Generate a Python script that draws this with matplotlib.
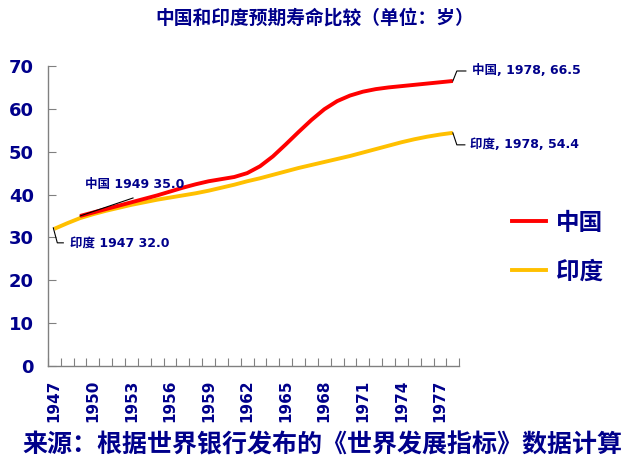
import numpy as np
import matplotlib
matplotlib.use('Agg')
import matplotlib.pyplot as plt
from matplotlib.lines import Line2D
from matplotlib.transforms import IdentityTransform

plt.rcParams['font.family'] = ['DejaVu Sans', 'Noto Sans CJK SC']

# data
years = list(range(1947, 1979))
china_years = list(range(1949, 1979))
china = [35.0, 35.8, 36.6, 37.4, 38.2, 39.0, 39.8, 40.7, 41.6, 42.4,
         43.1, 43.6, 44.1, 45.0, 46.6, 48.9, 51.7, 54.6, 57.4, 59.9,
         61.8, 63.1, 64.0, 64.6, 65.0, 65.3, 65.6, 65.9, 66.2, 66.5]
india = [32.0, 33.3, 34.5, 35.4, 36.2, 36.9, 37.6, 38.2, 38.8, 39.3,
         39.8, 40.3, 40.9, 41.6, 42.3, 43.1, 43.8, 44.6, 45.4, 46.2,
         46.9, 47.6, 48.3, 49.0, 49.8, 50.6, 51.4, 52.2, 52.9, 53.5,
         54.0, 54.4]
names = ['中国', '印度']
xtick_years = list(range(1947, 1978, 3))
yticks = [0, 10, 20, 30, 40, 50, 60, 70]

title = '中国和印度预期寿命比较（单位：岁）'
source = '来源：根据世界银行发布的《世界发展指标》数据计算'

navy = '#00008B'
red = '#FF0000'
gold = '#FFC000'

fig = plt.figure(figsize=(6.3, 4.68), dpi=100)
ax = fig.add_axes([0.076, 0.218, 0.653, 0.641])

xi_china = [years.index(y) for y in china_years]
xi_india = list(range(len(years)))
ax.plot(xi_india, india, color=gold, lw=2.8, solid_capstyle='butt',
        solid_joinstyle='round', zorder=2)
ax.plot(xi_china, china, color=red, lw=2.8, solid_capstyle='butt',
        solid_joinstyle='round', zorder=3)

ax.set_xlim(-0.5, len(years) - 0.5)
ax.set_ylim(0, 70)
for s in ['top', 'right']:
    ax.spines[s].set_visible(False)
for s in ['left', 'bottom']:
    ax.spines[s].set_color('#808080')
    ax.spines[s].set_linewidth(1.0)

ax.set_yticks(yticks)
ax.set_yticklabels([str(v) for v in yticks], fontsize=13, fontweight='bold', color=navy)
ax.tick_params(axis='y', direction='in', length=6, color='#808080', pad=10)

# category boundaries as ticks, labels at category centres
ax.set_xticks(np.arange(-0.5, len(years), 1.0))
ax.set_xticklabels([])
ax.set_xticks([years.index(y) for y in xtick_years], minor=True)
ax.set_xticklabels([str(y) for y in xtick_years], minor=True, rotation=90,
                   fontsize=11, fontweight='bold', color=navy)
ax.tick_params(axis='x', which='major', direction='in', length=6, color='#808080')
ax.tick_params(axis='x', which='minor', length=0, pad=10)

fig.text(0.5, 0.962, title, ha='center', va='center', fontsize=13.5,
         fontweight='bold', color=navy)
fig.text(0.512, 0.049, source, ha='center', va='center', fontsize=18,
         fontweight='bold', color=navy)

ax.legend(loc='center left', bbox_to_anchor=(0.812, 0.472), bbox_transform=fig.transFigure,
          frameon=False, prop={'size': 17, 'weight': 'bold'},
          handlelength=1.45, handletextpad=0.45, labelspacing=1.05,
          borderpad=0, borderaxespad=0, labelcolor=navy,
          handles=[Line2D([], [], color=red, lw=2.8), Line2D([], [], color=gold, lw=2.8)],
          labels=names)

fig.canvas.draw()


def label(xi, val, text, leader, text_off):
    # leader: list of pixel offsets (dx, dy, y up) from the data point
    px, py = ax.transData.transform((xi, val))
    xs = [px + d[0] for d in leader]
    ys = [py + d[1] for d in leader]
    fig.add_artist(Line2D(xs, ys, color='black', lw=0.8, transform=IdentityTransform()))
    ax.annotate(text, xy=(xi, val), xytext=(text_off[0] * 0.72, text_off[1] * 0.72),
                textcoords='offset points', ha='left', va='center',
                fontsize=9, fontweight='bold', color=navy)


label(xi_china[0], china[0], f'{names[0]} {china_years[0]} {china[0]:.1f}',
      [(0, 0), (53, 18)], (5, 31))
label(xi_india[0], india[0], f'{names[1]} {years[0]} {india[0]:.1f}',
      [(-1, 1), (3, -14), (9, -14)], (16, -14))
label(xi_china[-1], china[-1], f'{names[0]}, {china_years[-1]}, {china[-1]:.1f}',
      [(0, 0), (4, 10), (13, 10)], (19, 10))
label(xi_india[-1], india[-1], f'{names[1]}, {years[-1]}, {india[-1]:.1f}',
      [(0, 0), (4, -12), (12, -12)], (17, -12))

fig.savefig('out.png', dpi=100)
